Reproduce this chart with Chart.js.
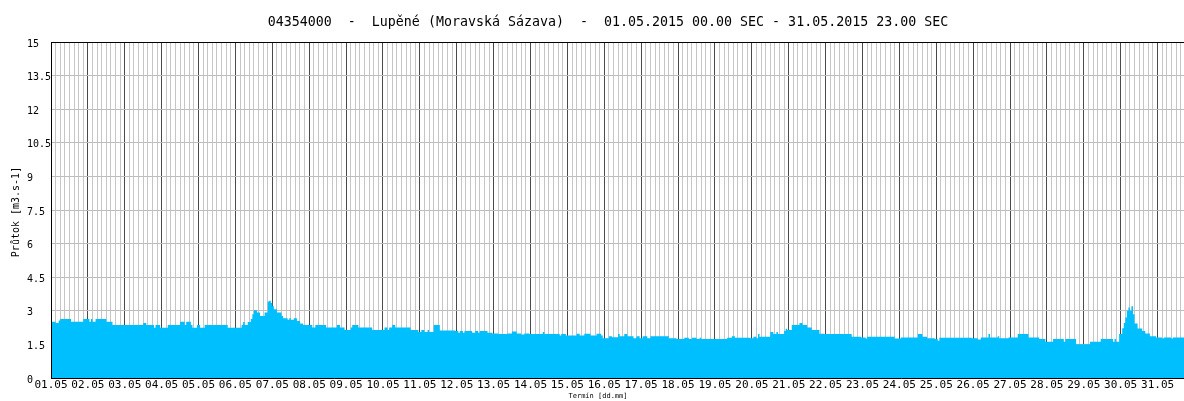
<!DOCTYPE html>
<html><head><meta charset="utf-8">
<script src="https://cdn.jsdelivr.net/npm/chart.js@4/dist/chart.umd.min.js"></script>
<style>html,body{margin:0;padding:0;background:#fff;overflow:hidden}canvas{display:block}</style>
</head><body>
<canvas id="c" width="1184" height="401"></canvas>
<script>
const chartTitle = '04354000  -  Lupěné (Moravská Sázava)  -  01.05.2015 00.00 SEC - 31.05.2015 23.00 SEC';
const yTitle = 'Průtok [m3.s-1]';
const xTitle = 'Termín [dd.mm]';
const dayLabels = ['01.05','02.05','03.05','04.05','05.05','06.05','07.05','08.05','09.05','10.05','11.05','12.05','13.05','14.05','15.05','16.05','17.05','18.05','19.05','20.05','21.05','22.05','23.05','24.05','25.05','26.05','27.05','28.05','29.05','30.05','31.05'];
const yTicks = [0,1.5,3,4.5,6,7.5,9,10.5,12,13.5,15];

// hourly discharge, days 1-7
const flowWeek1 = [
 2.51,2.51,2.51,2.51,2.45,2.45,2.57,2.63,2.63,2.63,2.63,2.63,2.63,2.63,2.51,2.51,2.51,2.51,2.51,2.51,2.51,2.51,2.63,2.63,
 2.63,2.63,2.51,2.63,2.51,2.51,2.63,2.63,2.63,2.63,2.63,2.63,2.63,2.51,2.51,2.51,2.51,2.37,2.37,2.37,2.37,2.37,2.37,2.37,
 2.37,2.37,2.37,2.37,2.37,2.37,2.37,2.37,2.37,2.37,2.37,2.37,2.37,2.45,2.45,2.37,2.37,2.37,2.37,2.37,2.24,2.37,2.37,2.37,
 2.24,2.24,2.24,2.24,2.24,2.37,2.37,2.37,2.37,2.37,2.37,2.37,2.37,2.51,2.51,2.51,2.37,2.51,2.51,2.51,2.37,2.24,2.24,2.24,
 2.37,2.37,2.24,2.24,2.24,2.37,2.37,2.37,2.37,2.37,2.37,2.37,2.37,2.37,2.37,2.37,2.37,2.37,2.37,2.37,2.24,2.24,2.24,2.24,
 2.24,2.24,2.24,2.24,2.24,2.37,2.5,2.37,2.37,2.5,2.5,2.63,2.85,3.03,3.03,2.92,2.92,2.77,2.77,2.77,2.92,2.92,3.41,3.45,
 3.35,3.2,3.07,3.07,2.92,2.92,2.92,2.77,2.67,2.67,2.67,2.6,2.67,2.6,2.6,2.67,2.67,2.55,2.55,2.43,2.43,2.37,2.37,2.37
];
// days 8-14
const flowWeek2 = [
 2.37,2.37,2.37,2.26,2.26,2.37,2.37,2.37,2.37,2.37,2.37,2.37,2.26,2.26,2.26,2.26,2.26,2.26,2.26,2.37,2.37,2.26,2.26,2.26,
 2.14,2.14,2.14,2.14,2.26,2.37,2.37,2.37,2.37,2.26,2.26,2.26,2.26,2.26,2.26,2.26,2.26,2.26,2.14,2.14,2.14,2.14,2.14,2.14,
 2.14,2.14,2.26,2.26,2.14,2.26,2.26,2.37,2.37,2.26,2.26,2.26,2.26,2.26,2.26,2.26,2.26,2.26,2.26,2.14,2.14,2.14,2.14,2.14,
 2.05,2.05,2.14,2.14,2.05,2.05,2.14,2.05,2.05,2.05,2.37,2.37,2.37,2.37,2.12,2.12,2.12,2.12,2.12,2.12,2.12,2.12,2.12,2.12,
 2.1,2.1,2.02,2.1,2.1,2.02,2.1,2.1,2.1,2.1,2.1,2.02,2.02,2.1,2.1,2.02,2.1,2.1,2.1,2.1,2.1,2.02,2.02,2.02,
 1.99,1.99,1.99,1.99,1.96,1.96,1.96,1.96,1.96,1.96,1.99,1.99,1.99,2.08,2.08,2.08,1.99,1.99,1.99,1.94,1.94,1.99,1.99,1.99,
 1.96,1.96,1.96,1.96,1.96,1.96,1.96,1.96,1.96,2.05,1.96,1.96,1.96,1.96,1.96,1.96,1.96,1.96,1.96,1.96,1.9,1.96,1.96,1.96
];
// days 15-21
const flowWeek3 = [
 1.9,1.9,1.9,1.9,1.9,1.9,1.9,1.97,1.97,1.9,1.9,1.9,1.97,1.97,1.97,1.97,1.9,1.9,1.9,1.9,1.97,1.97,1.97,1.9,
 1.77,1.77,1.77,1.77,1.86,1.86,1.82,1.82,1.82,1.82,1.96,1.86,1.86,1.86,1.96,1.96,1.86,1.86,1.86,1.86,1.77,1.77,1.86,1.86,
 1.77,1.77,1.86,1.86,1.86,1.77,1.77,1.86,1.86,1.86,1.86,1.86,1.86,1.86,1.86,1.86,1.86,1.86,1.86,1.77,1.77,1.77,1.77,1.77,
 1.74,1.74,1.74,1.74,1.74,1.8,1.8,1.8,1.74,1.74,1.8,1.8,1.8,1.74,1.74,1.8,1.74,1.74,1.74,1.74,1.74,1.74,1.74,1.74,
 1.74,1.74,1.74,1.74,1.74,1.74,1.74,1.74,1.74,1.8,1.8,1.8,1.86,1.86,1.8,1.8,1.8,1.8,1.8,1.8,1.8,1.8,1.8,1.8,
 1.77,1.77,1.84,1.84,1.77,1.96,1.84,1.84,1.84,1.84,1.84,1.84,1.84,2.05,2.05,1.96,1.96,2.05,1.96,1.96,1.96,1.96,2.1,2.2,
 2.14,2.14,2.14,2.37,2.37,2.37,2.37,2.37,2.45,2.45,2.37,2.37,2.37,2.26,2.26,2.26,2.14,2.14,2.14,2.14,2.14,1.98,1.98,1.98
];
// days 22-28
const flowWeek4 = [
 1.96,1.96,1.96,1.96,1.96,1.96,1.96,1.96,1.96,1.96,1.96,1.96,1.96,1.96,1.96,1.96,1.96,1.96,1.84,1.84,1.84,1.84,1.84,1.84,
 1.81,1.81,1.81,1.76,1.84,1.84,1.84,1.84,1.84,1.84,1.84,1.84,1.84,1.84,1.84,1.84,1.84,1.84,1.84,1.84,1.84,1.84,1.76,1.76,
 1.76,1.76,1.81,1.81,1.81,1.81,1.81,1.81,1.81,1.81,1.81,1.81,1.81,1.96,1.96,1.96,1.84,1.84,1.84,1.78,1.78,1.78,1.78,1.78,
 1.74,1.74,1.66,1.8,1.8,1.8,1.8,1.8,1.8,1.8,1.8,1.8,1.8,1.8,1.8,1.8,1.8,1.8,1.8,1.8,1.8,1.8,1.8,1.8,
 1.78,1.78,1.78,1.78,1.72,1.72,1.81,1.81,1.81,1.81,1.81,1.96,1.81,1.81,1.81,1.81,1.81,1.86,1.78,1.78,1.78,1.78,1.78,1.78,
 1.81,1.81,1.81,1.81,1.81,1.81,1.96,1.96,1.96,1.96,1.96,1.96,1.96,1.81,1.81,1.81,1.81,1.81,1.81,1.81,1.74,1.74,1.74,1.74,
 1.62,1.62,1.62,1.62,1.62,1.74,1.74,1.74,1.74,1.74,1.74,1.74,1.62,1.74,1.74,1.74,1.74,1.74,1.74,1.74,1.51,1.51,1.51,1.51
];
// days 29-31
const flowWeek5 = [
 1.51,1.51,1.51,1.51,1.51,1.62,1.62,1.62,1.62,1.62,1.62,1.62,1.74,1.74,1.74,1.74,1.74,1.74,1.74,1.74,1.62,1.74,1.62,1.62,
 1.96,1.96,2.22,2.45,2.7,3.0,3.15,3.0,3.2,2.85,2.43,2.43,2.21,2.21,2.21,2.1,2.1,1.99,1.99,1.99,1.86,1.86,1.86,1.86,
 1.81,1.81,1.81,1.81,1.76,1.81,1.81,1.81,1.81,1.81,1.76,1.81,1.81,1.81,1.81,1.81,1.81,1.81,1.81,1.81,1.81,1.81,1.81,1.81
];

const flow = [].concat(flowWeek1, flowWeek2, flowWeek3, flowWeek4, flowWeek5);
const points = flow.map((v, i) => ({x: i, y: v}));
points.push({x: flow.length, y: flow[flow.length - 1]});

const X_MAX = 737.2;

const textPlugin = {
  id: 'texts',
  afterDraw(chart) {
    const ctx = chart.ctx;
    ctx.save();
    ctx.fillStyle = '#000';
    ctx.font = '13.3px "DejaVu Sans Mono"';
    ctx.textAlign = 'center';
    ctx.textBaseline = 'alphabetic';
    ctx.fillText(chartTitle, 608, 26);
    ctx.font = '7px "DejaVu Sans Mono"';
    ctx.fillText(xTitle, 598, 398);
    ctx.translate(18.5, 212);
    ctx.rotate(-Math.PI / 2);
    ctx.font = '10px "DejaVu Sans Mono"';
    ctx.fillText(yTitle, 0, 0);
    ctx.restore();
  }
};

new Chart(document.getElementById('c').getContext('2d'), {
  type: 'line',
  data: {datasets: [{
    data: points, stepped: 'after', fill: 'origin',
    backgroundColor: '#00BFFF', borderColor: 'rgba(0,0,0,0)', borderWidth: 0,
    pointRadius: 0, clip: {left: -1, top: 0, right: 0, bottom: 0}
  }]},
  options: {
    responsive: false, animation: false, devicePixelRatio: 1,
    layout: {padding: {left: 27, top: 42, right: 0, bottom: 0}},
    plugins: {legend: {display: false}, tooltip: {enabled: false}, title: {display: false}},
    scales: {
      x: {
        type: 'linear', position: 'bottom', min: 0, max: X_MAX,
        afterBuildTicks: (s) => { const t = []; for (let v = 0; v < X_MAX; v += 3) t.push({value: v}); s.ticks = t; },
        ticks: {autoSkip: false, maxRotation: 0, minRotation: 0, padding: 1, color: '#000',
          font: {family: 'DejaVu Sans Mono', size: 11},
          callback: (v) => (v % 24 === 0 ? dayLabels[v / 24] : '')},
        grid: {color: '#c6c6c6', drawTicks: false, lineWidth: 1},
        border: {display: true, color: '#000', width: 1},
        afterFit: (s) => { s.height = 23; }
      },
      xDays: {
        type: 'linear', position: 'bottom', min: 0, max: X_MAX, z: 1,
        afterBuildTicks: (s) => { s.ticks = dayLabels.map((d, i) => ({value: i * 24})); },
        ticks: {display: false},
        grid: {color: '#4a4a4a', drawTicks: false, lineWidth: 1},
        border: {display: false},
        afterFit: (s) => { s.height = 0; }
      },
      y: {
        type: 'linear', min: 0, max: 15,
        afterBuildTicks: (s) => { s.ticks = yTicks.map(v => ({value: v})); },
        ticks: {crossAlign: 'far', padding: 0, labelOffset: 2, autoSkip: false, color: '#000',
          font: {family: 'DejaVu Sans Mono', size: 10}},
        grid: {color: (c) => (c.tick && c.tick.value === 15 ? '#000' : '#bdbdbd'), drawTicks: false},
        border: {display: true, color: '#000', width: 1},
        afterFit: (s) => { s.width = 24; }
      }
    }
  },
  plugins: [textPlugin]
});
</script>
</body></html>
